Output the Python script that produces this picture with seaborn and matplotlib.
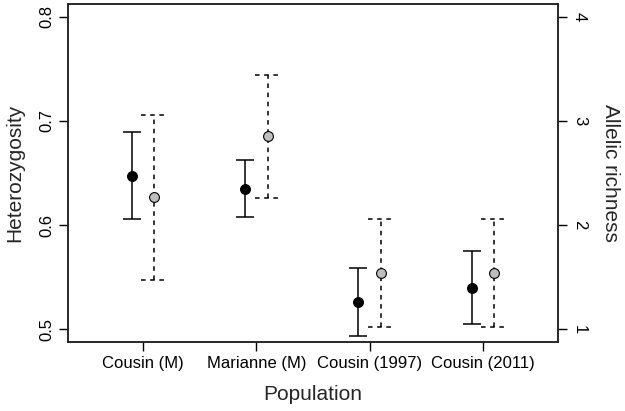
import numpy as np
import pandas as pd
import matplotlib
matplotlib.use("Agg")
import matplotlib.pyplot as plt
import seaborn as sns

# data
populations = ["Cousin (M)", "Marianne (M)", "Cousin (1997)", "Cousin (2011)"]
het_mean = [0.647, 0.635, 0.526, 0.540]
het_low = [0.606, 0.608, 0.494, 0.505]
het_high = [0.689, 0.662, 0.559, 0.575]
ar_mean = [2.27, 2.85, 1.54, 1.54]
ar_low = [1.47, 2.26, 1.02, 1.02]
ar_high = [3.06, 3.44, 2.06, 2.06]

sns.set_style("ticks")
plt.rcParams['font.family'] = ['Liberation Sans', 'DejaVu Sans']

pos = np.arange(len(populations))
df_het = pd.DataFrame({'x': pos - 0.1, 'y': het_mean})
df_ar = pd.DataFrame({'x': pos + 0.1, 'y': ar_mean})

fig = plt.figure(figsize=(6.25, 4.11), dpi=100)
ax = fig.add_axes([68 / 625, 1 - 342 / 411, 490 / 625, 338 / 411])
ax2 = ax.twinx()

# heterozygosity: solid bars, black points
ax.errorbar(df_het['x'], het_mean,
            yerr=[np.array(het_mean) - np.array(het_low), np.array(het_high) - np.array(het_mean)],
            fmt='none', ecolor='black', elinewidth=1.1, capsize=6.5, capthick=1.1)
sns.scatterplot(data=df_het, x='x', y='y', ax=ax, color='black', s=50,
                edgecolor='black', linewidth=0.8, zorder=3)

# allelic richness: dashed bars, grey points
eb = ax2.errorbar(df_ar['x'], ar_mean,
                  yerr=[np.array(ar_mean) - np.array(ar_low), np.array(ar_high) - np.array(ar_mean)],
                  fmt='none', ecolor='black', elinewidth=1.1, capsize=0)
for coll in eb[2]:
    coll.set_linestyle((0, (3, 3)))
# dashed caps
for xx, lo, hi in zip(df_ar['x'], ar_low, ar_high):
    for yy in (lo, hi):
        ax2.plot([xx - 0.115, xx + 0.115], [yy, yy], color='black', lw=1.1, ls=(0, (3, 3)))
sns.scatterplot(data=df_ar, x='x', y='y', ax=ax2, color='#BEBEBE', s=50,
                edgecolor='black', linewidth=0.8, zorder=3)

ax.set_xlim(-0.66, 3.66)
ax.set_ylim(0.488, 0.812)
ax2.set_ylim(0.88, 4.12)

ax.set_xticks(pos)
ax.set_xticklabels(populations, fontsize=12)
ax.set_yticks([0.5, 0.6, 0.7, 0.8])
ax.set_yticklabels(['0.5', '0.6', '0.7', '0.8'], fontsize=12, rotation=90, va='center')
ax2.set_yticks([1, 2, 3, 4])
ax2.set_yticklabels(['1', '2', '3', '4'], fontsize=12, rotation=-90, va='center')

ax.set_xlabel('Population', fontsize=15, labelpad=10)
ax.set_ylabel('Heterozygosity', fontsize=15, labelpad=11)
ax2.set_ylabel('Allelic richness', fontsize=15, rotation=-90, labelpad=24)

for a in (ax, ax2):
    a.tick_params(length=6.5, width=1, color='black', labelcolor='black')
    for s in a.spines.values():
        s.set_visible(True)
        s.set_linewidth(1.1)
        s.set_color('#222222')

fig.savefig('out.png', dpi=100)
